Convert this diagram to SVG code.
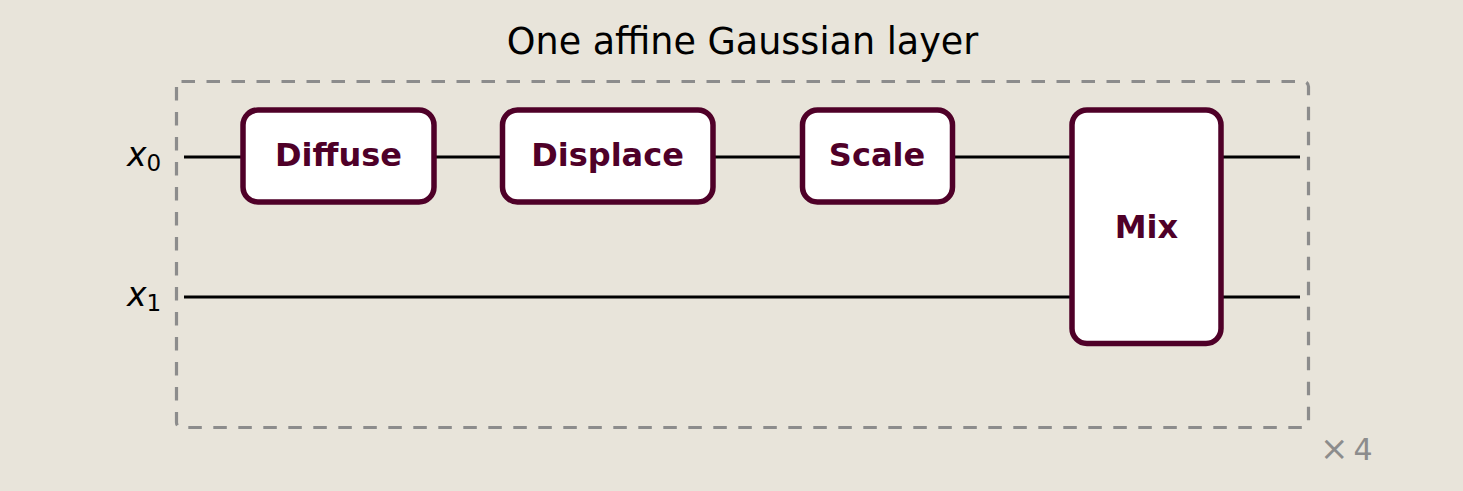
<svg xmlns="http://www.w3.org/2000/svg" width="1463" height="491" viewBox="0 0 1463 491">
<style>
.node rect{fill:#ffffff;stroke:#4f0028;stroke-width:5.5}
.node text{font-family:"DejaVu Sans",sans-serif;font-weight:bold;font-size:32px;fill:#4f0028;text-anchor:middle}
.wire{stroke:#000;stroke-width:3.2;fill:none}
.lbl{font-family:"DejaVu Sans",sans-serif;font-size:33px;fill:#000}
</style>
<rect width="1463" height="491" fill="#e8e4da"/>
<text x="742.5" y="54" font-family="DejaVu Sans, sans-serif" font-size="36.5" text-anchor="middle" fill="#000">One affine Gaussian layer</text>
<rect id="layer-box" x="176.5" y="81.5" width="1132" height="346" rx="5" fill="none" stroke="#8c8c8c" stroke-width="3.2" stroke-dasharray="13.5,11.5"/>
<text x="1320" y="460" font-family="DejaVu Sans, sans-serif" font-size="30" fill="#8c8c8c"><tspan font-size="34">×</tspan><tspan dx="5">4</tspan></text>
<g id="wire-labels">
<text class="lbl" x="127" y="166" font-style="italic">x<tspan font-style="normal" font-size="23" dy="5">0</tspan></text>
<text class="lbl" x="127" y="306" font-style="italic">x<tspan font-style="normal" font-size="23" dy="5">1</tspan></text>
</g>
<g id="connectors">
<line class="wire" x1="184" y1="157" x2="243" y2="157"/>
<line class="wire" x1="434" y1="157" x2="502" y2="157"/>
<line class="wire" x1="713" y1="157" x2="802" y2="157"/>
<line class="wire" x1="952" y1="157" x2="1072" y2="157"/>
<line class="wire" x1="1221" y1="157" x2="1300" y2="157"/>
<line class="wire" x1="184" y1="297" x2="1072" y2="297"/>
<line class="wire" x1="1221" y1="297" x2="1300" y2="297"/>
</g>
<g id="diffuse" class="node"><rect x="243" y="110" width="191" height="92" rx="15"/><text x="338.5" y="166">Diffuse</text></g>
<g id="displace" class="node"><rect x="502.5" y="110" width="210.5" height="92" rx="15"/><text x="607.5" y="166">Displace</text></g>
<g id="scale" class="node"><rect x="802.5" y="110" width="150" height="92" rx="15"/><text x="877" y="166">Scale</text></g>
<g id="mix" class="node"><rect x="1072" y="110" width="149" height="233.5" rx="15"/><text x="1146.5" y="238">Mix</text></g>
</svg>
